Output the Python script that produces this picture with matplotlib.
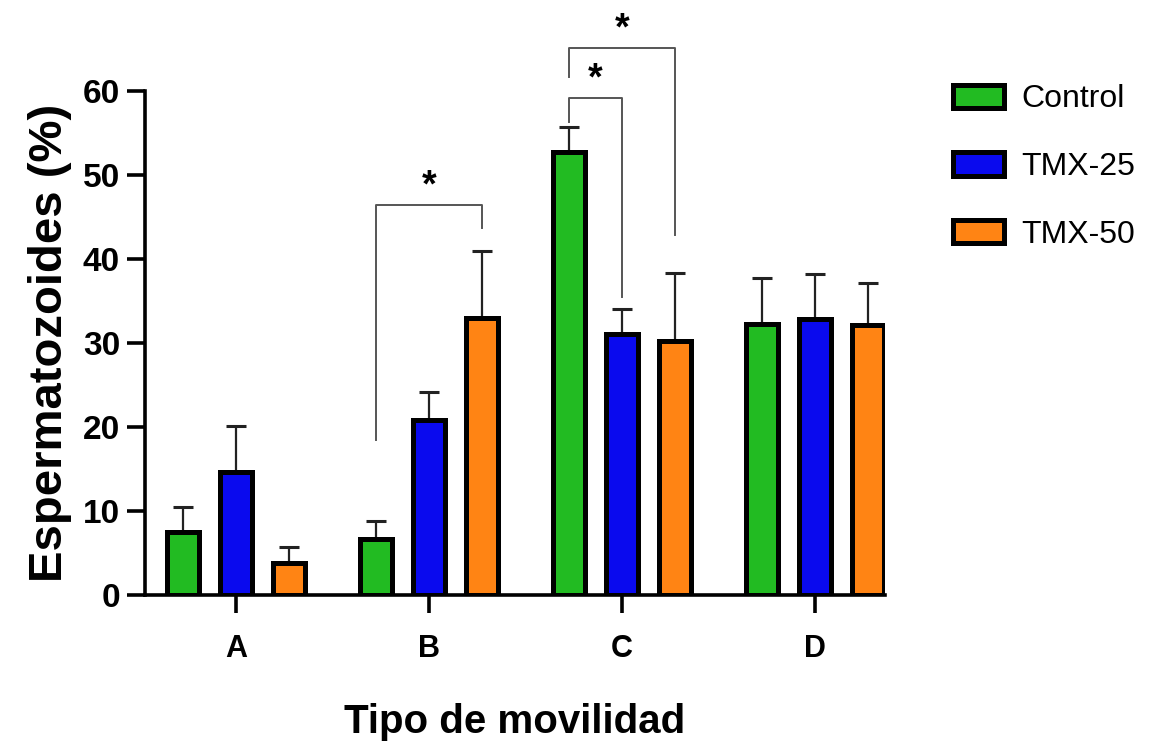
import numpy as np
import matplotlib
matplotlib.use("Agg")
from matplotlib import pyplot as plt

plt.rcParams['font.family'] = ['Liberation Sans', 'DejaVu Sans']

categories = ["A", "B", "C", "D"]
series = ["Control", "TMX-25", "TMX-50"]
colors = ["#22bb22", "#0a0aee", "#ff8414"]

control_mean = [7.5, 6.7, 52.7, 32.3]
control_sd = [3.0, 2.1, 3.0, 5.4]
tmx25_mean = [14.7, 20.8, 31.1, 32.9]
tmx25_sd = [5.4, 3.4, 2.9, 5.3]
tmx50_mean = [3.8, 33.0, 30.3, 32.1]
tmx50_sd = [1.9, 8.0, 8.0, 5.0]

# (category, from series, to series, top, left leg end, right leg end)
brackets = [
    (1, 0, 2, 46.4, 18.5, 43.7),
    (2, 0, 1, 59.2, 56.3, 35.5),
    (2, 0, 2, 65.1, 61.7, 42.9),
]

means = [control_mean, tmx25_mean, tmx50_mean]
sds = [control_sd, tmx25_sd, tmx50_sd]

offset = 0.275
width = 0.165
x = np.arange(len(categories))

fig = plt.figure(figsize=(11.58, 7.42), dpi=100)
ax = fig.add_axes([0.1252, 0.198, 0.639, 0.6794])

for i, name in enumerate(series):
    pos = x + (i - 1) * offset
    ax.errorbar(pos, means[i], yerr=[np.zeros(len(x)), sds[i]], fmt='none',
                ecolor='#222222', elinewidth=1.6, capsize=7, capthick=2.2,
                zorder=2)
    ax.bar(pos, means[i], width=width, color=colors[i], edgecolor='black',
           linewidth=3.6, label=name, zorder=3)

for cat, a, b, top, left_end, right_end in brackets:
    xa = cat + (a - 1) * offset
    xb = cat + (b - 1) * offset
    ax.plot([xa, xa, xb, xb], [left_end, top, top, right_end],
            color='#555555', linewidth=1.4, clip_on=False, zorder=1)
    ax.text((xa + xb) / 2, top + 2.2, "*", ha='center', va='center',
            fontsize=27, fontweight='bold', clip_on=False)

ax.set_xlim(-0.4715, 3.363)
ax.set_ylim(0, 60)
ax.set_xticks(x)
ax.set_xticklabels(categories)
ax.set_yticks(range(0, 61, 10))

for side in ['top', 'right']:
    ax.spines[side].set_visible(False)
for side in ['left', 'bottom']:
    ax.spines[side].set_linewidth(2.6)

ax.tick_params(axis='both', direction='out', length=13, width=2.6, pad=5)
ax.tick_params(axis='y', labelsize=24)
ax.tick_params(axis='x', labelsize=22, pad=15)
for lbl in ax.get_xticklabels() + ax.get_yticklabels():
    lbl.set_fontweight('bold')

ax.set_ylabel("Espermatozoides (%)", fontsize=34, fontweight='bold',
              labelpad=8)
ax.set_xlabel("Tipo de movilidad", fontsize=29, fontweight='bold',
              labelpad=28)

fig.legend(loc='upper left', bbox_to_anchor=(0.798, 0.925), frameon=False,
           fontsize=23, handlelength=1.6, handleheight=0.75,
           labelspacing=1.18, handletextpad=0.55)

fig.savefig("out.png", dpi=100)
